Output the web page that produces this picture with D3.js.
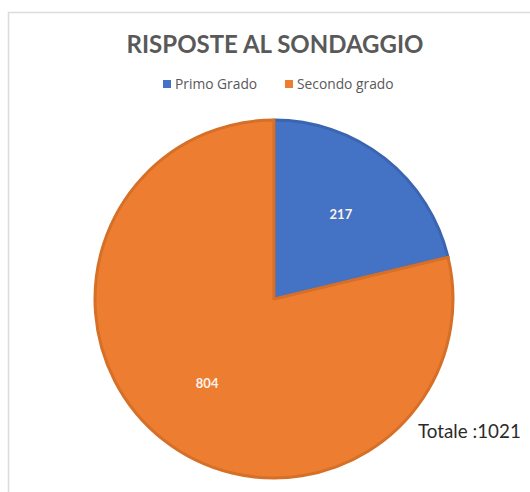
<!DOCTYPE html>
<html>
<head>
<meta charset="utf-8">
<script src="https://cdn.jsdelivr.net/npm/d3@7"></script>
<style>
  html, body { margin: 0; padding: 0; background: #fff; }
  svg { display: block; }
</style>
</head>
<body>
<svg id="chart" width="530" height="492"></svg>
<script>
// Survey responses by school level
const categories = ["Primo Grado", "Secondo grado"];
const values = [217, 804];
const colors = ["#4472c4", "#ed7d31"];
const strokes = ["#3b65b0", "#d66f27"];
const titleText = "RISPOSTE AL SONDAGGIO";
const totalLabel = "Totale :" + d3.sum(values);

const svg = d3.select("#chart");
const W = 530, H = 492;

// light frame around the chart area
svg.append("path")
  .attr("d", `M8.5,${H} L8.5,12.5 L${W},12.5`)
  .attr("fill", "none")
  .attr("stroke", "#dcdcdc")
  .attr("stroke-width", 1.5);

// title
svg.append("text")
  .attr("x", 275).attr("y", 53)
  .attr("text-anchor", "middle")
  .attr("font-family", "Lato, 'Open Sans', sans-serif")
  .attr("font-weight", "bold")
  .attr("font-size", 24)
  .attr("fill", "#595959")
  .text(titleText);

// legend
const legendX = [163, 285];
const legend = svg.append("g").attr("font-family", "'Open Sans', sans-serif").attr("font-size", 13.8).attr("fill", "#595959");
categories.forEach((c, i) => {
  legend.append("rect")
    .attr("x", legendX[i]).attr("y", 80)
    .attr("width", 8).attr("height", 8)
    .attr("fill", colors[i]);
  legend.append("text")
    .attr("x", legendX[i] + 12).attr("y", 89)
    .text(c);
});

// pie
const cx = 274, cy = 299, r = 179;
const pie = d3.pie().sort(null).value(d => d);
const arc = d3.arc().innerRadius(0).outerRadius(r);
const labelArc = d3.arc().innerRadius(108).outerRadius(108);
const arcs = pie(values);

const g = svg.append("g").attr("transform", `translate(${cx},${cy})`);
g.selectAll("path.slice")
  .data(arcs)
  .join("path")
  .attr("class", "slice")
  .attr("d", arc)
  .attr("fill", (d, i) => colors[i])
  .attr("stroke", (d, i) => strokes[i])
  .attr("stroke-width", 3)
  .attr("stroke-linejoin", "round");

g.selectAll("text.val")
  .data(arcs)
  .join("text")
  .attr("class", "val")
  .attr("transform", d => `translate(${labelArc.centroid(d)})`)
  .attr("text-anchor", "middle")
  .attr("dy", "0.35em")
  .attr("font-family", "Lato, 'Open Sans', sans-serif")
  .attr("font-weight", "bold")
  .attr("font-size", 13)
  .attr("fill", "#fdf3ea")
  .text(d => d.data);

// total annotation
svg.append("text")
  .attr("x", 418).attr("y", 438)
  .attr("font-family", "Lato, 'Open Sans', sans-serif")
  .attr("font-size", 18.8)
  .attr("fill", "#2b2b2b")
  .text(totalLabel);
</script>
</body>
</html>
